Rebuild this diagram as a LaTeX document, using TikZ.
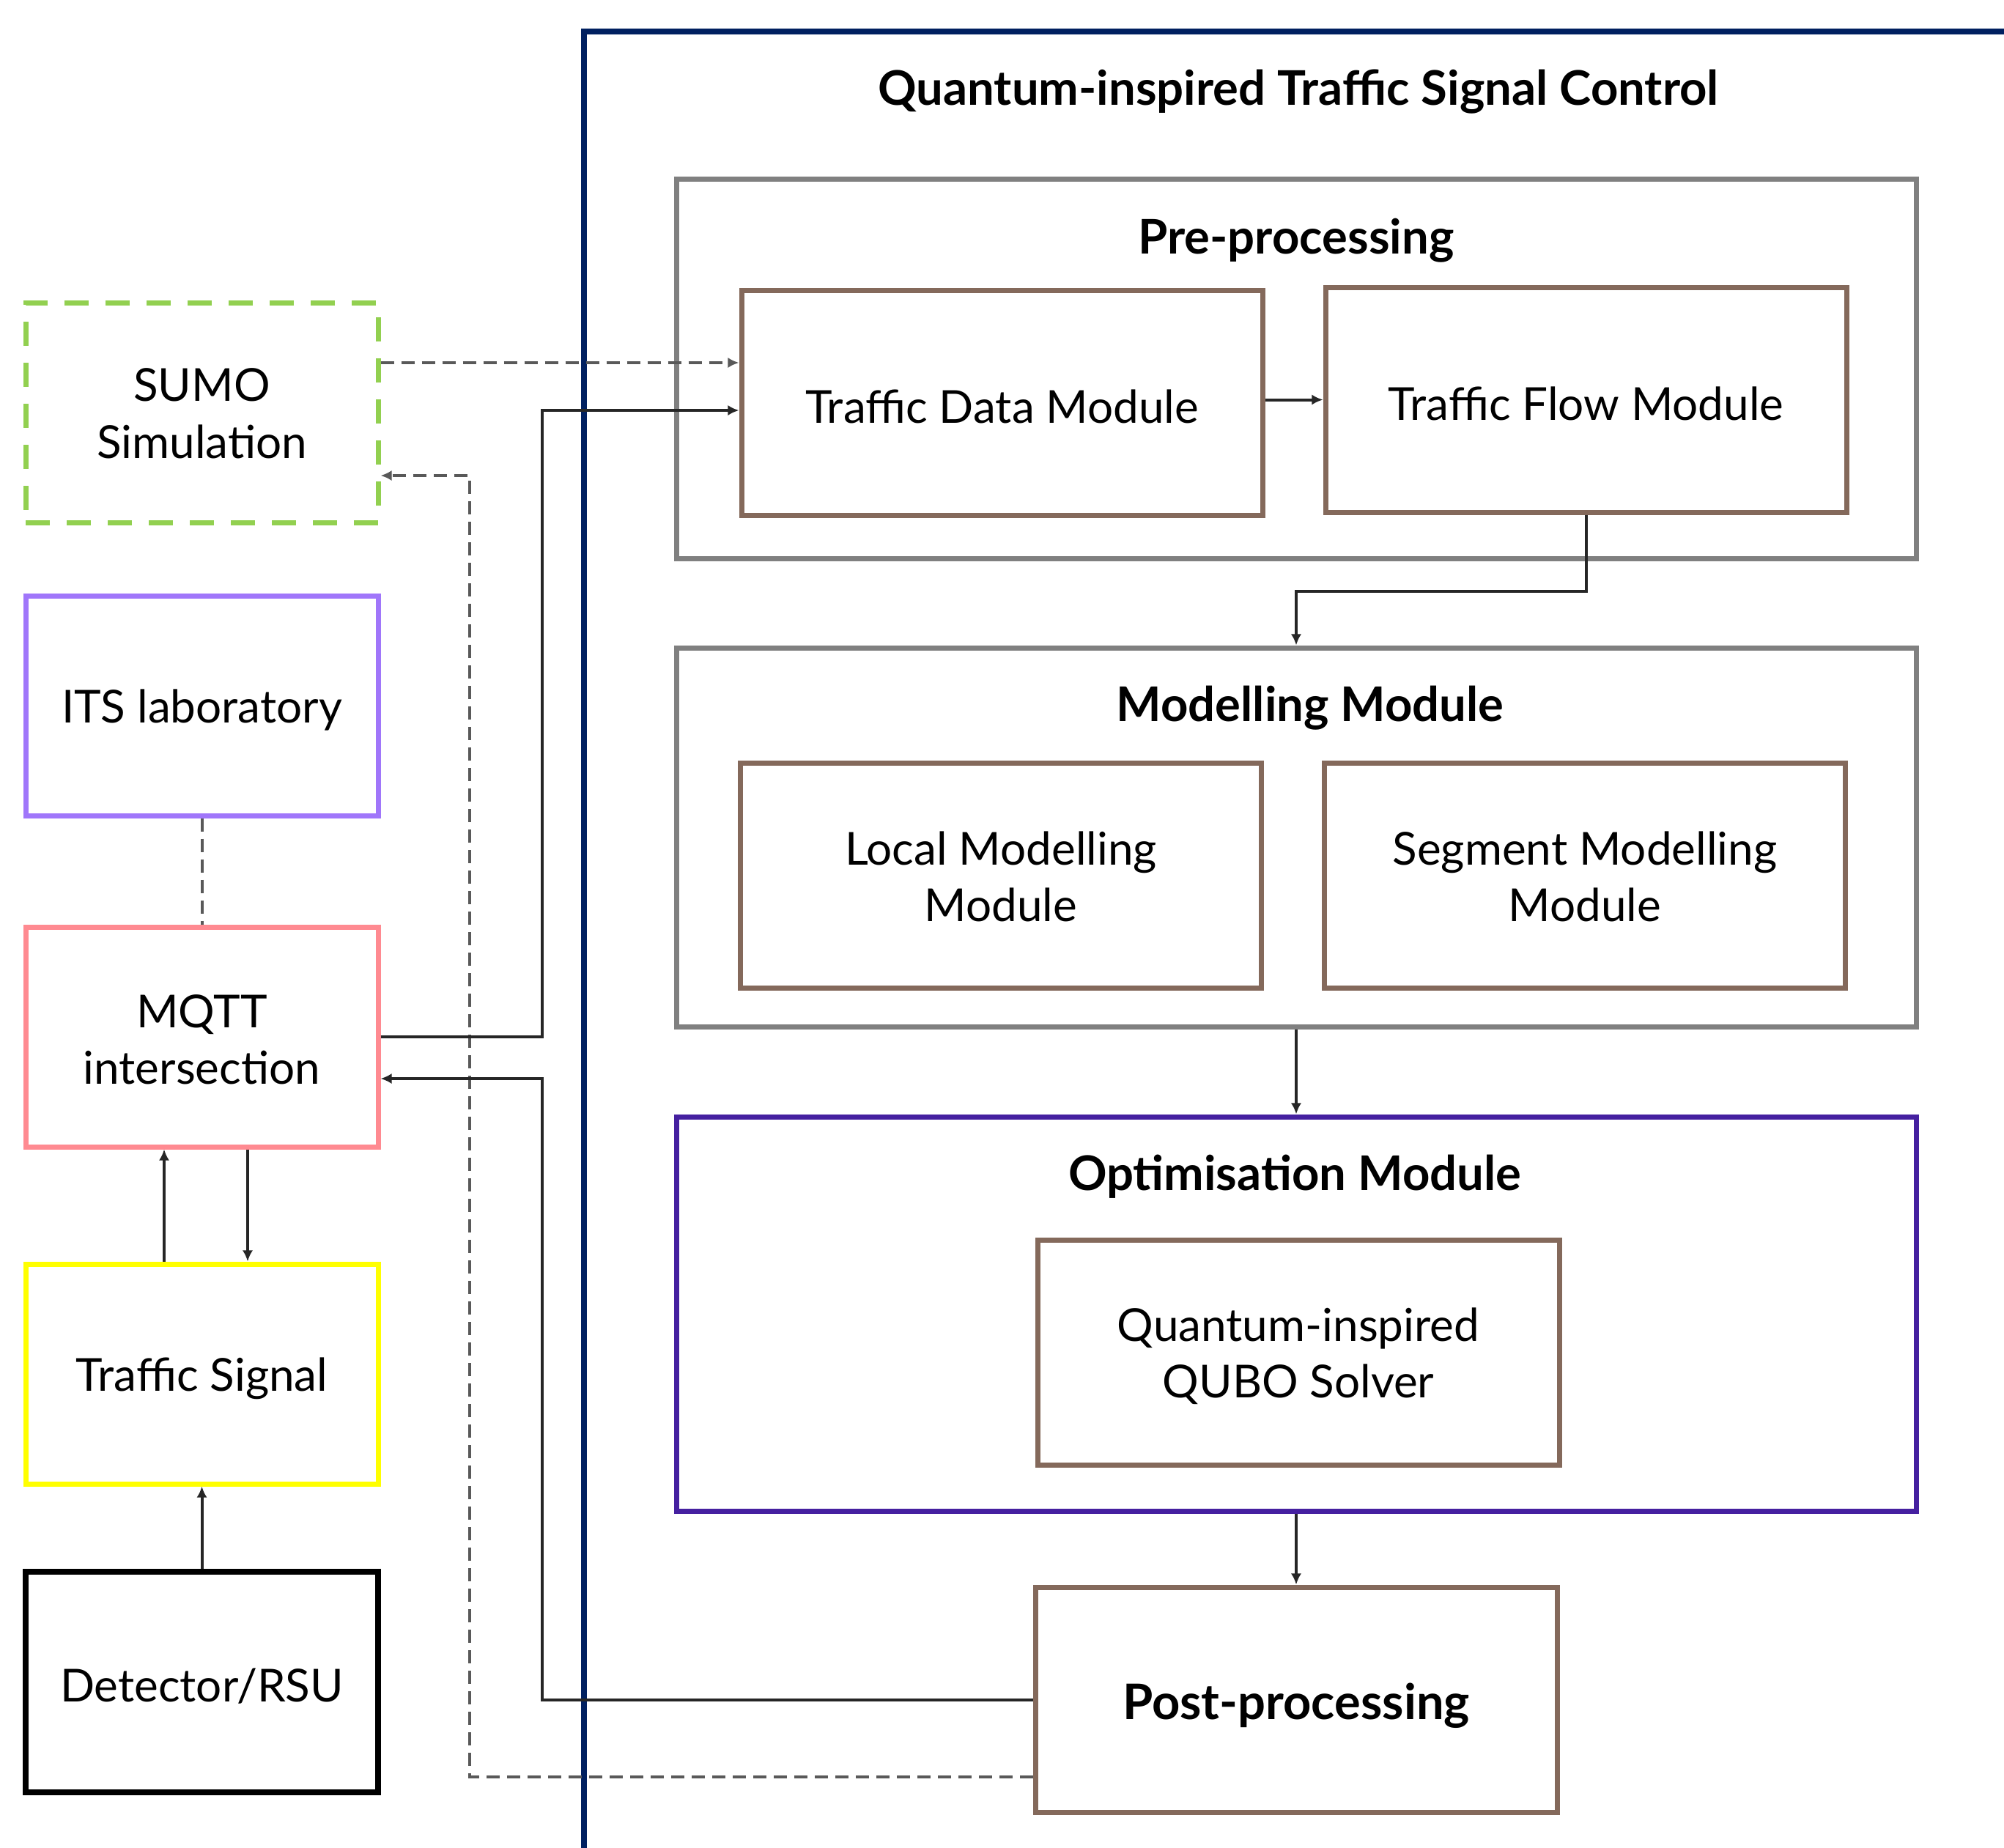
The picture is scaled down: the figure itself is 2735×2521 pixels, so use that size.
\documentclass[tikz,border=0pt]{standalone}
\usepackage{fontspec}
\setmainfont{Lato}
\usetikzlibrary{arrows.meta}
\definecolor{navyc}{HTML}{002060}
\definecolor{grayc}{HTML}{808080}
\definecolor{brownc}{HTML}{84695B}
\definecolor{optc}{HTML}{4520A0}
\definecolor{greenc}{HTML}{92D050}
\definecolor{itsc}{HTML}{A076FA}
\definecolor{pinkc}{HTML}{FF8A91}
\definecolor{yellowc}{HTML}{FFFF00}
\definecolor{arrc}{HTML}{262626}
\definecolor{dashc}{HTML}{595959}
\tikzset{
  bodyfont/.style={font=\fontsize{15.5pt}{19.3pt}\selectfont},
  headfont/.style={font=\fontsize{16.3pt}{19.3pt}\selectfont\bfseries},
  basebox/.style={rectangle, line width=1.75pt, inner sep=0pt},
  leftbox/.style={basebox, minimum width=120.25pt, minimum height=75pt},
  modbox/.style={basebox, draw=brownc, minimum width=177.75pt, minimum height=76.75pt},
  groupbox/.style={basebox, draw=grayc, minimum width=423pt},
  txt/.style={inner sep=0pt, align=center, bodyfont},
  heading/.style={inner sep=0pt, headfont},
  arr/.style={draw=arrc, line width=1pt, -{Latex[length=3.8pt,width=3.6pt]}},
  dasharr/.style={draw=dashc, line width=1pt, dash pattern=on 4.5pt off 2.5pt, -{Latex[length=3.8pt,width=3.6pt]}},
  dashline/.style={draw=dashc, line width=1pt, dash pattern=on 4.5pt off 2.5pt}
}
\begin{document}
\begin{tikzpicture}[x=0.25pt,y=-0.25pt]
\useasboundingbox (0,0) rectangle (2735,2521);
% outer frame
\draw[navyc, line width=2pt] (797,2560) -- (797,43) -- (2780,43);
\node[heading] (title) at (1772,125) {Quantum-inspired Traffic Signal Control};

% group boxes
\node[groupbox, minimum height=129.5pt] (pre) at (1769,503) {};
\node[heading] (pret) at (1769,328) {Pre-processing};
\node[groupbox, minimum height=129.25pt] (mod) at (1769,1142.5) {};
\node[heading] (modt) at (1788,966) {Modelling Module};
\node[groupbox, draw=optc, minimum height=134.5pt] (opt) at (1769,1793) {};
\node[heading] (optt) at (1767,1606) {Optimisation Module};

% module boxes
\node[modbox] (tdm) at (1367.5,549.5) {};
\node[txt, yshift=-1.3pt] (tdmt) at (tdm) {Traffic Data Module};
\node[modbox] (tfm) at (2164.5,545.5) {};
\node[txt, yshift=-1.3pt] (tfmt) at (tfm) {Traffic Flow Module};
\node[modbox] (lmm) at (1366,1194.5) {};
\node[txt, yshift=-0.5pt] (lmmt) at (lmm) {Local Modelling\\Module};
\node[modbox] (smm) at (2163,1194.5) {};
\node[txt, yshift=-0.5pt] (smmt) at (smm) {Segment Modelling\\Module};
\node[modbox, minimum width=178pt] (qubo) at (1772,1845.5) {};
\node[txt, yshift=-1.3pt] (qubot) at (qubo) {Quantum-inspired\\QUBO Solver};
\node[modbox, minimum width=178pt] (post) at (1769,2319.5) {};
\node[heading, font=\fontsize{16.7pt}{19.3pt}\selectfont\bfseries, yshift=-2pt] (postt) at (post) {Post-processing};

% left column
\node[leftbox, draw=greenc, dash pattern=on 8.25pt off 5.75pt] (sumo) at (275.5,563) {};
\node[txt, yshift=-0.3pt] (sumot) at (sumo) {SUMO\\Simulation};
\node[leftbox, draw=itsc] (its) at (275.5,963) {};
\node[txt, yshift=-1.6pt] (itst) at (its) {ITS laboratory};
\node[leftbox, draw=pinkc] (mqtt) at (275.5,1415) {};
\node[txt, yshift=-0.9pt] (mqttt) at (mqtt) {MQTT\\intersection};
\node[leftbox, draw=yellowc] (ts) at (275.5,1875) {};
\node[txt, yshift=-1.6pt] (tst) at (ts) {Traffic Signal};
\node[leftbox, draw=black, line width=2.2pt, minimum height=75.25pt] (det) at (275.5,2295.5) {};
\node[txt, yshift=-1.3pt] (dett) at (det) {Detector/RSU};

% helper coordinates
\coordinate (y495) at (0,495);
\coordinate (y560) at (0,560);
\coordinate (y649) at (0,649);
\coordinate (y1472) at (0,1472);
\coordinate (y2425) at (0,2425);
\coordinate (x224) at (224,0);
\coordinate (x338) at (338,0);
\coordinate (k1) at (1769,807);
\coordinate (v1) at (740,560);
\coordinate (v2) at (740,1472);
\coordinate (v3) at (641,2425);
\coordinate (v4) at (641,649);

% connectors
\draw[arr] (tdm.east |- tfm.west) -- (tfm.west);
\draw[arr] (tfm.south) |- (k1) -- (mod.north);
\draw[arr] (mod.south) -- (opt.north);
\draw[arr] (opt.south) -- (post.north);
\draw[dasharr] (sumo.east |- y495) -- (tdm.west |- y495);
\draw[dasharr] (post.west |- y2425) -- (v3) -- (v4) -- (sumo.east |- y649);
\draw[dashline] (its.south) -- (mqtt.north);
\draw[arr] (mqtt.east) -| (v1) -- (tdm.west |- y560);
\draw[arr] (post.west) -| (v2) -- (mqtt.east |- y1472);
\draw[arr] (ts.north -| x224) -- (mqtt.south -| x224);
\draw[arr] (mqtt.south -| x338) -- (ts.north -| x338);
\draw[arr] (det.north) -- (ts.south);
\end{tikzpicture}
\end{document}
